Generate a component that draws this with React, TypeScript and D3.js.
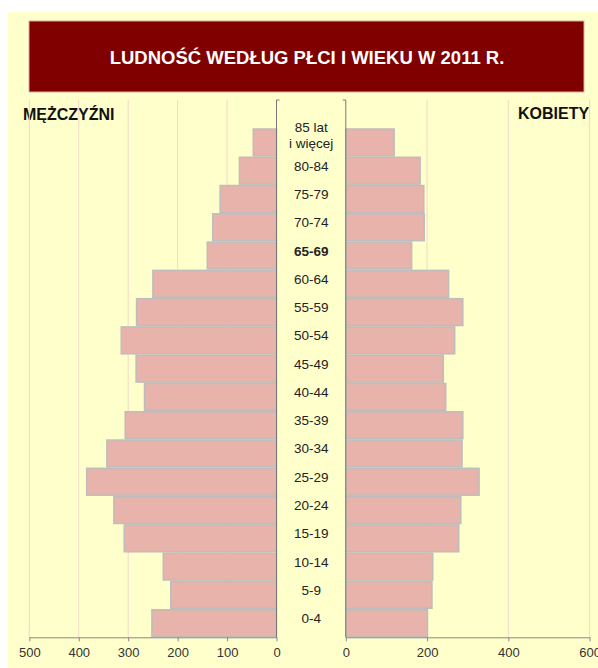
import * as d3 from "d3";
import React, { useRef, useEffect } from "react";

const width = 598;
const height = 668;

// age groups from youngest (bottom) to oldest (top)
const ageGroups = [
  "0-4", "5-9", "10-14", "15-19", "20-24", "25-29", "30-34", "35-39", "40-44",
  "45-49", "50-54", "55-59", "60-64", "65-69", "70-74", "75-79", "80-84",
  "85 lat\ni więcej",
];
const men = [252, 214, 229, 308, 329, 384, 343, 306, 267, 284, 314, 283, 250, 140, 129, 114, 75, 47];
const women = [201, 212, 214, 278, 283, 328, 286, 288, 246, 240, 268, 288, 253, 162, 193, 192, 183, 119];
const boldGroup = "65-69";

const leftTicks = [0, 100, 200, 300, 400, 500];
const rightTicks = [0, 200, 400, 600];

const title = "LUDNOŚĆ WEDŁUG PŁCI I WIEKU W 2011 R.";
const leftTitle = "MĘŻCZYŹNI";
const rightTitle = "KOBIETY";

const font = "'Liberation Sans', Arial, sans-serif";
const plotTop = 100;
const plotBottom = 637.3;

export default function App() {
  const ref = useRef(null);

  useEffect(() => {
    const svg = d3.select(ref.current);
    svg.selectAll("*").remove();

    // background
    svg.append("rect")
      .attr("x", 8).attr("y", 12)
      .attr("width", width - 8).attr("height", height - 12)
      .attr("fill", "#ffffcc");

    // title box
    svg.append("rect")
      .attr("x", 29).attr("y", 21)
      .attr("width", 555).attr("height", 71)
      .attr("fill", "#800000")
      .attr("stroke", "#d9a9a0")
      .attr("stroke-width", 1);
    svg.append("text")
      .attr("x", 307).attr("y", 57)
      .attr("text-anchor", "middle")
      .attr("dominant-baseline", "central")
      .style("font-family", font)
      .style("font-size", "18.5px")
      .style("font-weight", "bold")
      .attr("fill", "white")
      .text(title);

    svg.append("text")
      .attr("x", 23).attr("y", 114)
      .attr("dominant-baseline", "central")
      .style("font-family", font)
      .style("font-size", "16px")
      .style("font-weight", "bold")
      .attr("fill", "#111")
      .text(leftTitle);
    svg.append("text")
      .attr("x", 518).attr("y", 113)
      .attr("dominant-baseline", "central")
      .style("font-family", font)
      .style("font-size", "16px")
      .style("font-weight", "bold")
      .attr("fill", "#111")
      .text(rightTitle);

    // scales
    const scaleL = d3.scaleLinear().domain([0, 500]).range([276.5, 29.3]);
    const scaleR = d3.scaleLinear().domain([0, 600]).range([345.8, 589.6]);
    // one empty slot above the oldest group, like the original
    const scaleY: any = d3
      .scaleBand()
      .domain(["", ...ageGroups.slice().reverse()])
      .range([plotTop, plotBottom])
      .paddingInner(0.05)
      .paddingOuter(0.025);

    // grid lines
    const grid = svg.append("g").attr("stroke", "#f3d8c8").attr("stroke-width", 1);
    grid.selectAll(".gl")
      .data(leftTicks.filter((d) => d > 0))
      .join("line")
      .attr("x1", (d) => scaleL(d)).attr("x2", (d) => scaleL(d))
      .attr("y1", plotTop).attr("y2", plotBottom);
    grid.selectAll(".gr")
      .data(rightTicks.filter((d) => d > 0))
      .join("line")
      .attr("x1", (d) => scaleR(d)).attr("x2", (d) => scaleR(d))
      .attr("y1", plotTop).attr("y2", plotBottom);

    const rows = ageGroups.map((g, i) => ({ group: g, m: men[i], w: women[i] }));

    // bars
    const bars = svg.append("g")
      .attr("fill", "#e8b3ab")
      .attr("stroke", "#bdbdbd")
      .attr("stroke-width", 1.5);
    bars.selectAll(".bm")
      .data(rows)
      .join("rect")
      .attr("x", (d) => scaleL(d.m))
      .attr("y", (d) => scaleY(d.group))
      .attr("width", (d) => scaleL(0) - scaleL(d.m))
      .attr("height", scaleY.bandwidth());
    bars.selectAll(".bw")
      .data(rows)
      .join("rect")
      .attr("x", scaleR(0))
      .attr("y", (d) => scaleY(d.group))
      .attr("width", (d) => scaleR(d.w) - scaleR(0))
      .attr("height", scaleY.bandwidth());

    // x axes
    function xAxis(g: any, scale: any, ticks: number[]) {
      g.attr("transform", `translate(0,${plotBottom})`)
        .call(d3.axisBottom(scale).tickValues(ticks).tickSize(4).tickSizeOuter(0).tickPadding(6))
        .call((g: any) => g.attr("font-family", font).attr("font-size", 13))
        .call((g: any) => g.select(".domain").attr("stroke", "#888"))
        .call((g: any) => g.selectAll(".tick line").attr("stroke", "#888"))
        .call((g: any) => g.selectAll(".tick text").attr("fill", "#333"));
    }
    svg.append("g").call(xAxis, scaleL, leftTicks);
    svg.append("g").call(xAxis, scaleR, rightTicks);

    // y axis lines with small top ticks
    svg.append("path")
      .attr("d", `M${scaleL(0) + 3},${plotTop}H${scaleL(0)}V${plotBottom}`)
      .attr("fill", "none").attr("stroke", "#777");
    svg.append("path")
      .attr("d", `M${scaleR(0) - 3},${plotTop}H${scaleR(0)}V${plotBottom}`)
      .attr("fill", "none").attr("stroke", "#777");

    // age labels in the middle column
    const cx = (scaleL(0) + scaleR(0)) / 2;
    const labels = svg.append("g")
      .attr("text-anchor", "middle")
      .style("font-family", font)
      .style("font-size", "13.5px")
      .attr("fill", "#222");
    rows.forEach((d) => {
      const mid = scaleY(d.group) + scaleY.bandwidth() / 2;
      const lines = d.group.split("\n");
      lines.forEach((line, j) => {
        const y = lines.length > 1 ? mid - 15 + j * 16 : mid - 4.5;
        labels.append("text")
          .attr("x", cx)
          .attr("y", y)
          .attr("dominant-baseline", "central")
          .style("font-weight", d.group === boldGroup ? "bold" : "normal")
          .text(line);
      });
    });
  }, []);

  return (
    <svg
      ref={ref}
      width={width}
      height={height}
      style={{ position: "absolute", left: 0, top: 0 }}
    />
  );
}
